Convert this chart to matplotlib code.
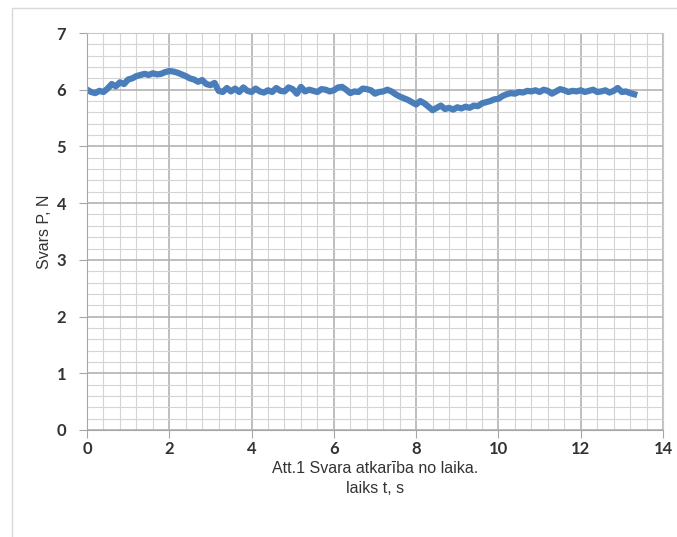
import numpy as np
import matplotlib
matplotlib.use('Agg')
import matplotlib.pyplot as plt
from matplotlib.ticker import MultipleLocator
from matplotlib.patches import Rectangle

# force readings, one every 0.1 s
t = np.round(np.arange(0, 13.31, 0.1), 1)
force = [6.00, 5.96, 5.94, 5.98, 5.96, 6.02, 6.10, 6.06, 6.13, 6.10,
         6.18, 6.20, 6.24, 6.26, 6.28, 6.26, 6.29, 6.27, 6.28, 6.31,
         6.33, 6.32, 6.30, 6.27, 6.24, 6.20, 6.18, 6.14, 6.17, 6.10,
         6.08, 6.12, 5.98, 5.96, 6.03, 5.97, 6.02, 5.96, 6.04, 5.98,
         5.96, 6.02, 5.97, 5.95, 5.99, 5.96, 6.03, 5.98, 5.97, 6.04,
         6.01, 5.93, 6.05, 5.97, 6.00, 5.98, 5.96, 6.01, 6.00, 5.97,
         5.99, 6.04, 6.05, 6.00, 5.94, 5.97, 5.96, 6.02, 6.01, 5.99,
         5.93, 5.96, 5.97, 6.00, 5.97, 5.92, 5.88, 5.85, 5.82, 5.78,
         5.74, 5.80, 5.76, 5.70, 5.64, 5.68, 5.72, 5.66, 5.68, 5.65,
         5.69, 5.67, 5.70, 5.68, 5.72, 5.71, 5.76, 5.78, 5.80, 5.83,
         5.84, 5.89, 5.92, 5.94, 5.93, 5.96, 5.95, 5.98, 5.97, 5.99,
         5.96, 6.00, 5.98, 5.93, 5.97, 6.01, 5.99, 5.96, 5.98, 5.97,
         5.99, 5.96, 5.98, 6.00, 5.96, 5.97, 5.99, 5.95, 5.98, 6.03,
         5.96, 5.97, 5.94, 5.92]

fig = plt.figure(figsize=(6.77, 5.37), dpi=100)
fig.patches.append(Rectangle((12/677, -0.01), 1.0, 1 - 8/537 + 0.01,
                             transform=fig.transFigure, fill=False,
                             edgecolor='#d9d9d9', linewidth=1.0))

ax = fig.add_axes([87/677, 1 - 430/537, (663 - 87)/677, (430 - 33)/537])
ax.plot(t, force, '-', color='#4a7ebb', linewidth=4.5, solid_joinstyle='round')

ax.set_xlim(0, 14)
ax.set_ylim(0, 7)
ax.xaxis.set_major_locator(MultipleLocator(2))
ax.xaxis.set_minor_locator(MultipleLocator(0.4))
ax.yaxis.set_major_locator(MultipleLocator(1))
ax.yaxis.set_minor_locator(MultipleLocator(0.2))
ax.grid(True, which='major', color='#b3b3b3', linewidth=1.2)
ax.grid(True, which='minor', color='#d4d4d4', linewidth=0.8)
ax.set_axisbelow(True)

for s in ['top', 'right']:
    ax.spines[s].set_color('#c8c8c8')
for s in ['left', 'bottom']:
    ax.spines[s].set_color('#a6a6a6')
ax.tick_params(which='major', length=6, color='#a6a6a6', labelsize=12,
               labelcolor='#333333')
ax.tick_params(axis='x', pad=2)
ax.tick_params(axis='y', pad=9)
ax.tick_params(which='minor', length=0)
for lab in ax.get_xticklabels() + ax.get_yticklabels():
    lab.set_fontfamily('Lato')
    lab.set_fontweight('bold')

ax.set_xlabel('Att.1 Svara atkarība no laika.\nlaiks t, s', fontsize=11.5,
              family='Liberation Sans', color='#333333', labelpad=3,
              linespacing=1.4)
ax.set_ylabel('Svars P, N', fontsize=11.5, family='Liberation Sans',
              color='#333333', labelpad=3)

fig.savefig('out.png', dpi=100)
